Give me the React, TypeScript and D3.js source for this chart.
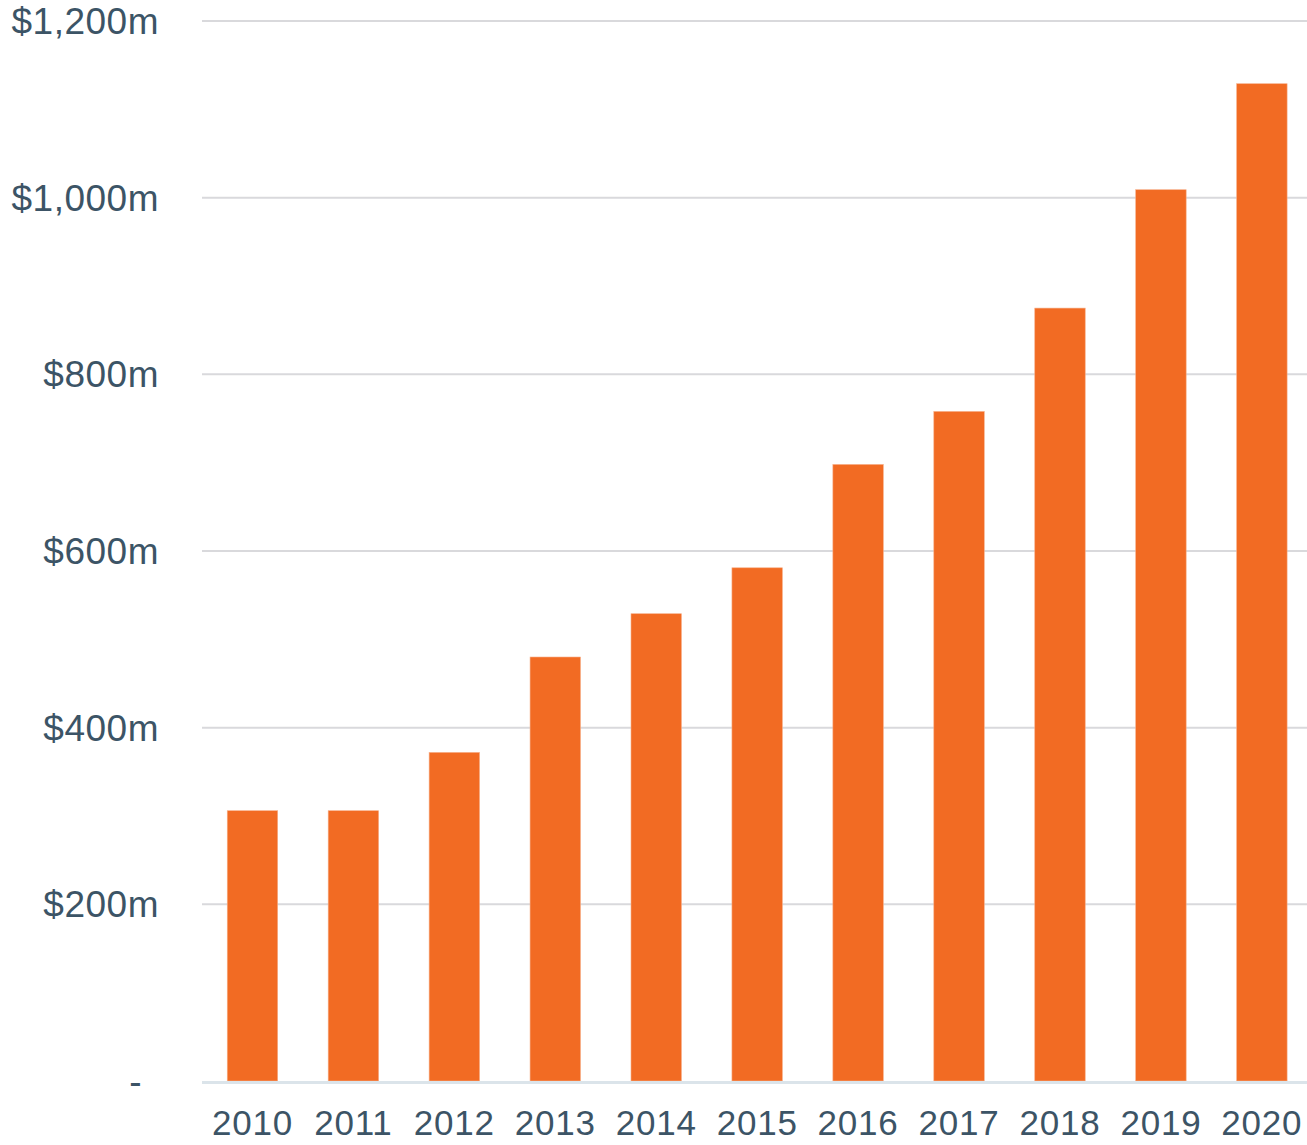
import React from "react";
import * as d3 from "d3";

const years = ["2010", "2011", "2012", "2013", "2014", "2015", "2016", "2017", "2018", "2019", "2020"];
const values = [306, 306, 372, 480, 529, 581, 698, 758, 875, 1009, 1129];
const yTicks = [0, 200, 400, 600, 800, 1000, 1200];
const yTickLabels = ["-", "$200m", "$400m", "$600m", "$800m", "$1,000m", "$1,200m"];

const W = 1307;
const H = 1145;
const FONT = "'Liberation Sans', Arial, sans-serif";
const TEXT = "#3c5466";
const BAR = "#f26b23";

export default function App() {
  const x = d3
    .scaleBand<string>()
    .domain(years)
    .range([202, 202 + 11 * 100.94])
    .paddingInner(0.5)
    .paddingOuter(0.25);
  const y = d3.scaleLinear().domain([0, 1200]).range([1081, 21]);

  return (
    <svg
      width={W}
      height={H}
      style={{ position: "absolute", left: 0, top: 0, background: "#fff" }}
      fontFamily={FONT}
    >
      {yTicks.map((t) =>
        t === 0 ? null : (
          <line key={"g" + t} x1={202} x2={W} y1={y(t)} y2={y(t)} stroke="#d9d9dc" strokeWidth={2} />
        )
      )}
      {yTicks.map((t, i) => (
        <text
          key={"l" + t}
          x={t === 0 ? 142 : 159}
          y={y(t)}
          dy="0.35em"
          textAnchor="end"
          fontSize={37}
          letterSpacing={0.5}
          fill={TEXT}
        >
          {yTickLabels[i]}
        </text>
      ))}
      {years.map((yr, i) => (
        <rect
          key={yr}
          x={x(yr)}
          y={y(values[i])}
          width={x.bandwidth()}
          height={y(0) - y(values[i])}
          fill={BAR}
          stroke="#f7b08a"
          strokeWidth={0.6}
        />
      ))}
      <line x1={202} x2={W} y1={y(0) + 1.5} y2={y(0) + 1.5} stroke="#dbe4ea" strokeWidth={3} />
      {years.map((yr) => (
        <text
          key={"x" + yr}
          x={(x(yr) as number) + x.bandwidth() / 2}
          y={1135}
          textAnchor="middle"
          fontSize={35}
          letterSpacing={0.8}
          fill={TEXT}
        >
          {yr}
        </text>
      ))}
    </svg>
  );
}
